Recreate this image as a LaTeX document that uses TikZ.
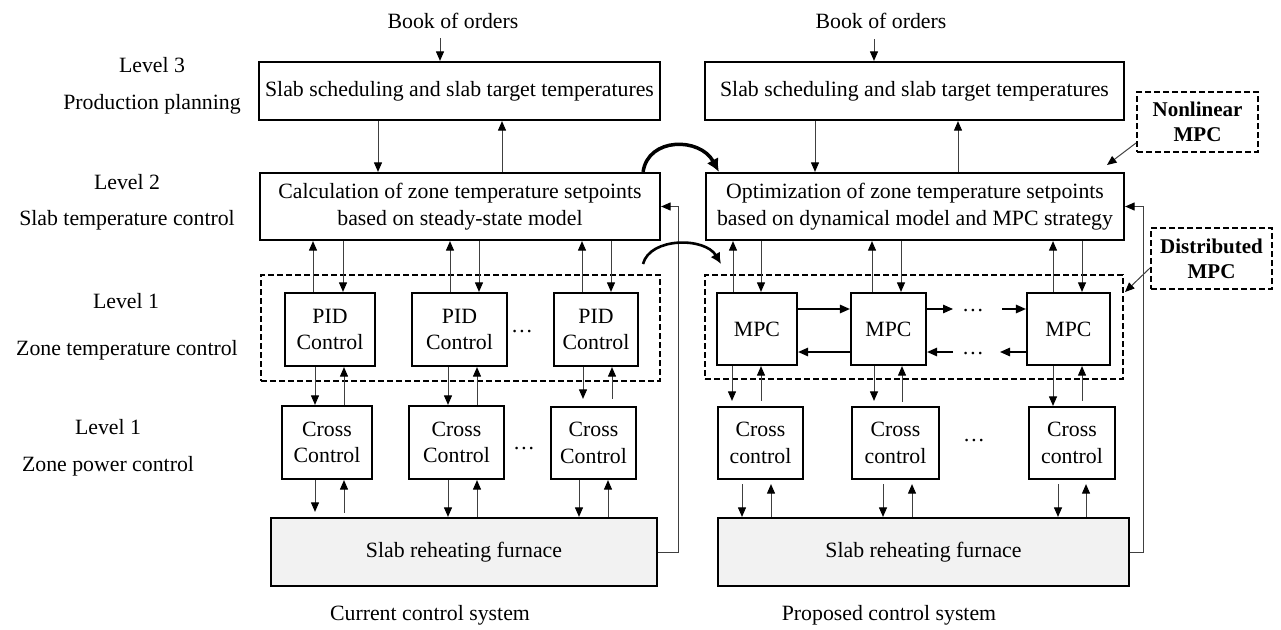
\documentclass[tikz,border=0pt]{standalone}
\usepackage{fontspec}
\setmainfont{Liberation Serif}
\usetikzlibrary{arrows.meta}
\newcommand\arrdn[4][]{\draw[arr,#1] (#2.south -| #4,0) -- (#3.north -| #4,0);}
\newcommand\arrup[4][]{\draw[arr,#1] (#3.north -| #4,0) -- (#2.south -| #4,0);}
\begin{document}
\begin{tikzpicture}[x=1pt,y=-1pt,
  every node/.style={font=\fontsize{21.8}{26.5}\selectfont, inner sep=0pt},
  box/.style={draw, line width=2.2pt, align=center},
  furn/.style={box, fill=black!5},
  dbox/.style={draw, line width=2pt, dash pattern=on 6pt off 3pt},
  note/.style={dbox, align=center, font=\fontsize{21}{25}\selectfont\bfseries},
  arr/.style={draw=black!75, line width=1pt, -{Triangle[length=9.5pt,width=8pt,color=black]}},
  harr/.style={draw=black, line width=1.4pt, -{Triangle[length=10pt,width=8.5pt]}},
  bigcurve/.style={line width=3.5pt, -{Latex[length=13pt,width=13pt]}},
  smallcurve/.style={line width=2.6pt, -{Latex[length=11pt,width=11pt]}}
]
\useasboundingbox (0,0) rectangle (1281,629);

% level labels
\node (lv3) at (152,65) {Level 3};
\node (lv3t) at (152,104) {Production planning};
\node (lv2) at (127,182) {Level 2};
\node (lv2t) at (127,220) {Slab temperature control};
\node (lv1) at (126,301) {Level 1};
\node (lv1t) at (127,350) {Zone temperature control};
\node (lv0) at (108,427) {Level 1};
\node (lv0t) at (108,466) {Zone power control};

% ---------------- left: current system
\node (BL) at (453,21) {Book of orders};
\node[box, minimum width=401pt, minimum height=58pt] (L3) at (459.5,91) {Slab scheduling and slab target temperatures};
\node[box, minimum width=400pt, minimum height=67pt] (L2) at (460,206.5) {Calculation of zone temperature setpoints\\based on steady-state model};
\node[dbox, minimum width=399pt, minimum height=106pt] (LD) at (460.5,328) {};
\node[box, minimum width=90pt, minimum height=73pt] (P1) at (330,329.5) {PID\\Control};
\node[box, minimum width=95pt, minimum height=73pt] (P2) at (459.5,329.5) {PID\\Control};
\node[box, minimum width=84pt, minimum height=73pt] (P3) at (596,329.5) {PID\\Control};
\node (dotP) at (522,332) {\dots};
\node[box, minimum width=90pt, minimum height=73pt] (C1) at (327,442.5) {Cross\\Control};
\node[box, minimum width=95pt, minimum height=73pt] (C2) at (456.5,442.5) {Cross\\Control};
\node[box, minimum width=85pt, minimum height=72pt] (C3) at (593.5,443) {Cross\\Control};
\node (dotC) at (524,449) {\dots};
\node[furn, minimum width=386pt, minimum height=68pt] (F1) at (464,552) {Slab reheating furnace};
\node (capL) at (430,615) {Current control system};

\coordinate (bl) at (440,38);
\draw[arr] (bl) -- (L3.north -| bl);
\arrdn{L3}{L2}{378}
\arrup{L3}{L2}{502}
\arrup{L2}{P1}{313}
\arrdn{L2}{P1}{343}
\arrup{L2}{P2}{450}
\arrdn{L2}{P2}{479}
\arrup{L2}{P3}{582}
\arrdn{L2}{P3}{611}
\arrdn{P1}{C1}{315}
\arrup{P1}{C1}{344}
\arrdn{P2}{C2}{448}
\arrup{P2}{C2}{477}
\arrdn[shorten >=7pt]{P3}{C3}{583}
\arrup[shorten <=7pt]{P3}{C3}{612}
\arrdn[shorten >=5pt]{C1}{F1}{315}
\arrup[shorten <=4pt]{C1}{F1}{344}
\arrdn{C2}{F1}{448}
\arrup{C2}{F1}{477}
\arrdn{C3}{F1}{579}
\arrup{C3}{F1}{608}
\draw[arr] (F1.east) -- ++(20,0) |- (L2.east);

% ---------------- right: proposed system
\node (BR) at (881,21) {Book of orders};
\node[box, minimum width=419pt, minimum height=58pt] (R3) at (914.5,91) {Slab scheduling and slab target temperatures};
\node[box, minimum width=418pt, minimum height=67pt] (R2) at (915,206.5) {Optimization of zone temperature setpoints\\based on dynamical model and MPC strategy};
\node[dbox, minimum width=418pt, minimum height=104pt] (RD) at (914,327) {};
\node[box, minimum width=80pt, minimum height=72pt] (M1) at (757,329) {MPC};
\node[box, minimum width=75pt, minimum height=72pt] (M2) at (888.5,329) {MPC};
\node[box, minimum width=83pt, minimum height=72pt] (M3) at (1068.5,329) {MPC};
\node (dotM1) at (973,311) {\dots};
\node (dotM2) at (973,354) {\dots};
\node[box, minimum width=85pt, minimum height=72pt] (X1) at (760.5,443) {Cross\\control};
\node[box, minimum width=87pt, minimum height=72pt] (X2) at (895.5,443) {Cross\\control};
\node[box, minimum width=86pt, minimum height=72pt] (X3) at (1072,443) {Cross\\control};
\node (dotX) at (974,441) {\dots};
\node[furn, minimum width=411pt, minimum height=68pt] (F2) at (923.5,552) {Slab reheating furnace};
\node (capR) at (889,615) {Proposed control system};

\node[note, minimum width=121pt, minimum height=60pt] (NL) at (1197.5,122) {Nonlinear\\MPC};
\node[note, minimum width=121pt, minimum height=61pt] (DM) at (1211.5,258.5) {Distributed\\MPC};

\coordinate (br) at (874,39);
\draw[arr] (br) -- (R3.north -| br);
\arrdn{R3}{R2}{815}
\arrup{R3}{R2}{958}
\arrup{R2}{M1}{733}
\arrdn{R2}{M1}{761}
\arrup{R2}{M2}{872}
\arrdn{R2}{M2}{901}
\arrup{R2}{M3}{1053}
\arrdn{R2}{M3}{1082}
\arrdn[shorten >=5pt]{M1}{X1}{732}
\arrup[shorten <=5pt]{M1}{X1}{761}
\arrdn[shorten >=5pt]{M2}{X2}{874}
\arrup[shorten <=4pt]{M2}{X2}{902}
\arrdn{M3}{X3}{1053}
\arrup[shorten <=5pt]{M3}{X3}{1082}
\arrdn[shorten <=4pt]{X1}{F2}{742}
\arrup[shorten >=4pt]{X1}{F2}{771}
\arrdn[shorten <=4pt]{X2}{F2}{883}
\arrup[shorten >=4pt]{X2}{F2}{912}
\arrdn[shorten <=4pt]{X3}{F2}{1058}
\arrup[shorten >=4pt]{X3}{F2}{1086}
\draw[arr] (F2.east) -- ++(13,0) |- (R2.east);

% MPC horizontal exchange
\coordinate (h1) at (953,309);
\coordinate (h2) at (1002,309);
\coordinate (h3) at (1000,352);
\coordinate (h4) at (953,352);
\draw[harr] (M1.east |- 0,309) -- (M2.west |- 0,309);
\draw[harr] (M2.west |- 0,352) -- (M1.east |- 0,352);
\draw[harr] (M2.east |- h1) -- (h1);
\draw[harr] (h2) -- (M3.west |- h2);
\draw[harr] (M3.west |- h3) -- (h3);
\draw[harr] (h4) -- (M2.east |- h4);

% annotation arrows
\coordinate (nlend) at (1107,165);
\draw[arr] ([yshift=10pt]NL.south west) -- (nlend);
\coordinate (dmend) at (1125,292);
\draw[arr] ([yshift=22pt]DM.south west) -- (dmend);

% curved arrows
\draw[bigcurve] ([xshift=-18pt]L2.north east) .. controls (648,137) and (700,137) .. ([xshift=14pt]R2.north west);
\draw[smallcurve] ([shift={(-18pt,10pt)}]LD.north east) .. controls (650,237) and (705,237) .. ([shift={(17pt,10pt)}]RD.north west);
\end{tikzpicture}
\end{document}
